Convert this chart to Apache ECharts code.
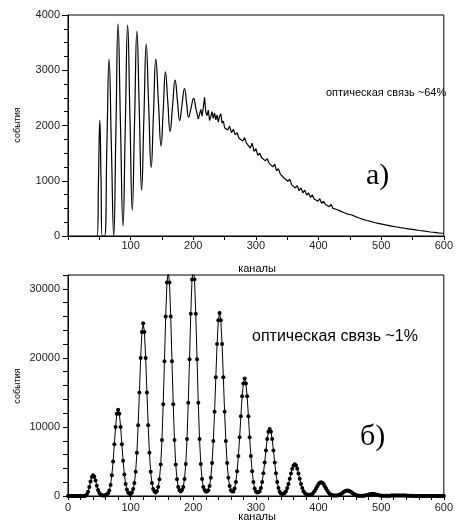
<!DOCTYPE html>
<html>
<head>
<meta charset="utf-8">
<script src="https://cdn.jsdelivr.net/npm/echarts@6/dist/echarts.min.js"></script>
<style>
  html, body { margin: 0; padding: 0; background: #fff; }
  #chart { width: 456px; height: 522px; }
</style>
</head>
<body>
<div id="chart"></div>
<script>
// верхний спектр: колебания (пики / впадины / середины), каналы и события
const oscCh = [44, 46.5, 48.7, 50.8, 52.7, 54.6, 58.3, 62, 65.6, 69.3, 73, 76.5, 79.9, 83.8, 87.8,
  91.5, 95.2, 98.9, 102.6, 106.3, 110, 113.8, 117.5, 121.2, 124.9, 128.8, 132.8, 136.5, 140.2,
  144.4, 148.6, 152.1, 155.6, 159.3, 163, 167, 171, 174.7, 178.3, 182, 186, 189.3, 192.6,
  196.5, 200.5, 204.3, 208];
const oscCounts = [0, 0, 1050, 2100, 1050, 0, 0, 1600, 3200, 1600, 0, 1920, 3840, 2010, 180,
  2000, 3820, 2145, 470, 2090, 3710, 2270, 830, 2150, 3470, 2355, 1240, 2220, 3200,
  2415, 1630, 2300, 2970, 2430, 1890, 2360, 2820, 2450, 2090, 2380, 2670, 2410, 2150,
  2320, 2490, 2300, 2120];

// верхний спектр: шумный хвост
const tailCh = [208, 210, 212, 214, 216, 218, 220, 222, 224, 226, 228, 230, 232, 234, 236, 238,
  240, 242, 244, 246, 248, 250, 252,
  255, 258, 261, 264, 267, 270, 273, 276, 279, 282, 285, 288, 291, 294, 297, 300,
  303, 306, 309, 312, 315, 318, 321, 324, 327, 330, 333, 336, 339, 342, 345, 348,
  351, 354, 357, 360, 363, 366, 369, 372, 375, 378, 381, 384, 387, 390, 393, 396,
  399, 402, 405, 408, 411, 414, 417, 420, 423, 426, 429, 432, 435, 438, 441, 444,
  447, 450, 453, 456, 459, 462, 465, 468, 471, 474, 477, 480, 483, 486, 489, 492,
  495, 498, 501, 504, 507, 510, 513, 516, 519, 522, 525, 528, 531, 534, 537, 540,
  543, 546, 549, 552, 555, 558, 561, 564, 567, 570, 573, 576, 579, 582, 585, 588,
  591, 594, 597, 600];
const tailCounts = [2120, 2200, 2290, 2170, 2330, 2510, 2240, 2180, 2280, 2090, 2160, 2250, 2130, 2230, 2100, 2190,
  2060, 2170, 2210, 2040, 2080, 1960, 1990,
  1920, 1990, 1870, 1930, 1830, 1870, 1770, 1800, 1720, 1780, 1680, 1700, 1590, 1680, 1530, 1580,
  1460, 1500, 1420, 1450, 1360, 1400, 1320, 1330, 1250, 1300, 1180, 1220, 1120, 1130, 1050, 1080,
  990, 1030, 925, 960, 870, 910, 820, 870, 780, 830, 740, 780, 700, 745, 670, 700,
  630, 675, 590, 630, 570, 600, 530, 570, 500, 530, 480, 490, 450, 480, 420, 450,
  395, 415, 380, 370, 350, 360, 325, 330, 300, 310, 280, 290, 265, 262, 245, 252,
  230, 232, 215, 214, 200, 200, 188, 186, 175, 173, 163, 161, 150, 149, 140, 137,
  130, 127, 120, 118, 110, 106, 100, 96, 92, 88, 82, 78, 72, 69, 64, 60,
  56, 53, 50, 48];

// нижний спектр: события через каждые 2 канала, начиная с 0
const bottomStep = 2;
const bottomCounts = [
  0, 0, 0, 0, 0, 0, 0, 0, 0, 0, 0, 0, 0, 0, 30, 200, 600, 1300, 2100, 2750,
  3000, 2800, 2250, 1500, 870, 450, 210, 100, 60, 70, 100, 200, 400, 800, 1600, 3000, 5000, 7500, 10000, 11900,
  12500, 11900, 10000, 7500, 5100, 3100, 1750, 940, 500, 320, 300, 520, 1000, 1875, 3500, 6250, 10250, 15000, 20000, 23750,
  25000, 23750, 20000, 15000, 10250, 6250, 3500, 1875, 1000, 650, 500, 720, 1300, 2440, 4550, 8100, 13300, 19500, 26000, 30900,
  32500, 30900, 26000, 19500, 13300, 8100, 4550, 2440, 1300, 850, 650, 860, 1320, 2475, 4620, 8250, 13500, 19800, 26400, 31350,
  33000, 31350, 26400, 19800, 13500, 8250, 4620, 2475, 1320, 860, 650, 660, 850, 1460, 2650, 4770, 7950, 12200, 17200, 22000,
  25440, 26500, 25440, 22000, 17200, 12200, 7950, 4770, 2650, 1460, 850, 640, 650, 1100, 2040, 3570, 5780, 8500, 11560, 14450,
  16300, 17000, 16300, 14450, 11560, 8500, 5780, 3570, 2040, 1100, 650, 500, 560, 680, 1160, 2040, 3300, 4850, 6600, 8245,
  9310, 9700, 9310, 8245, 6600, 4850, 3300, 2040, 1160, 630, 380, 300, 330, 420, 690, 1150, 1750, 2480, 3270, 3960,
  4420, 4600, 4420, 3960, 3270, 2480, 1750, 1150, 690, 420, 260, 190, 170, 180, 200, 300, 500, 760, 1080, 1420,
  1720, 1920, 2000, 1920, 1720, 1420, 1080, 760, 500, 300, 180, 110, 75, 60, 55, 70, 120, 200, 300, 430,
  570, 690, 770, 800, 770, 690, 570, 430, 300, 200, 120, 75, 50, 35, 30, 35, 50, 75, 115, 160,
  210, 260, 290, 300, 290, 260, 210, 160, 115, 75, 50, 35, 25, 22, 25, 30, 38, 46, 55, 62,
  70, 74, 77, 79, 80, 79, 77, 74, 70, 62, 55, 46, 38, 30, 25, 20, 17, 15, 15, 15,
  15, 15, 15, 15, 12, 12, 12, 12, 10, 10, 10, 10, 10, 10, 10, 10, 10, 10, 10, 10,
  10
];

const font = '"Liberation Sans", Arial, sans-serif';
const serif = '"Liberation Serif", "Times New Roman", serif';
const black = { color: '#000', width: 1 };
const labelStyle = { color: '#222', fontSize: 11, fontFamily: font };

function xAxisFor(gi, minorSplit, margin, showMin) {
  return {
    type: 'value', gridIndex: gi, min: 0, max: 600, interval: 100,
    axisLine: { show: true, lineStyle: black },
    axisTick: { show: true, length: 4, lineStyle: black },
    minorTick: { show: true, splitNumber: minorSplit, length: 4, lineStyle: black },
    splitLine: { show: false },
    axisLabel: Object.assign({ margin: margin, showMinLabel: showMin, formatter: v => String(v) }, labelStyle)
  };
}

const chart = echarts.init(document.getElementById('chart'));
chart.setOption({
  animation: false,
  grid: [
    { left: 68, right: 10, top: 15, height: 221, show: true, borderColor: '#000', borderWidth: 1 },
    { left: 68, right: 10, top: 275, height: 221, show: true, borderColor: '#000', borderWidth: 1 }
  ],
  xAxis: [
    xAxisFor(0, 2, 4, false),
    xAxisFor(1, 5, 6, true)
  ],
  yAxis: [
    {
      type: 'value', gridIndex: 0, min: 0, max: 4000, interval: 1000,
      axisLine: { show: true, lineStyle: black },
      axisTick: { show: true, length: 6, lineStyle: black },
      minorTick: { show: true, splitNumber: 4, length: 4, lineStyle: black },
      splitLine: { show: false },
      axisLabel: Object.assign({ margin: 8, formatter: v => String(v) }, labelStyle)
    },
    {
      type: 'value', gridIndex: 1, min: 0, max: 32000, interval: 2000,
      axisLine: { show: true, lineStyle: black },
      axisTick: { show: true, length: 5, lineStyle: black },
      splitLine: { show: false },
      axisLabel: Object.assign({
        margin: 8,
        formatter: v => (v % 10000 === 0 ? String(v) : '')
      }, labelStyle)
    }
  ],
  series: [
    {
      type: 'line', xAxisIndex: 0, yAxisIndex: 0, silent: true,
      data: oscCh.map((c, i) => [c, oscCounts[i]]),
      smooth: 0.5, showSymbol: false,
      lineStyle: { color: '#000', width: 1.2 }
    },
    {
      type: 'line', xAxisIndex: 0, yAxisIndex: 0, silent: true,
      data: tailCh.map((c, i) => [c, tailCounts[i]]),
      showSymbol: false,
      lineStyle: { color: '#000', width: 1.2 }
    },
    {
      type: 'line', xAxisIndex: 1, yAxisIndex: 1, silent: true,
      data: bottomCounts.map((v, i) => [i * bottomStep, v]),
      symbol: 'circle', symbolSize: 4, showSymbol: true,
      itemStyle: { color: '#000' },
      lineStyle: { color: '#000', width: 1 }
    }
  ],
  graphic: [
    { type: 'text', x: 326, y: 93, style: { text: 'оптическая связь ~64%', font: '11px ' + font, fill: '#000', textVerticalAlign: 'middle' } },
    { type: 'text', x: 366, y: 176, style: { text: 'а)', font: '30px ' + serif, fill: '#000', textVerticalAlign: 'middle' } },
    { type: 'text', x: 252, y: 337, style: { text: 'оптическая связь ~1%', font: '16px ' + font, fill: '#000', textVerticalAlign: 'middle' } },
    { type: 'text', x: 360, y: 437, style: { text: 'б)', font: '30px ' + serif, fill: '#000', textVerticalAlign: 'middle' } },
    { type: 'text', x: 257, y: 269, style: { text: 'каналы', font: '11px ' + font, fill: '#000', textAlign: 'center', textVerticalAlign: 'middle' } },
    { type: 'text', x: 257, y: 517, style: { text: 'каналы', font: '11px ' + font, fill: '#000', textAlign: 'center', textVerticalAlign: 'middle' } },
    { type: 'text', x: 18, y: 125, rotation: Math.PI / 2, style: { text: 'события', font: '9px ' + font, fill: '#000', textAlign: 'center', textVerticalAlign: 'middle' } },
    { type: 'text', x: 18, y: 386, rotation: Math.PI / 2, style: { text: 'события', font: '9px ' + font, fill: '#000', textAlign: 'center', textVerticalAlign: 'middle' } }
  ]
});
</script>
</body>
</html>
